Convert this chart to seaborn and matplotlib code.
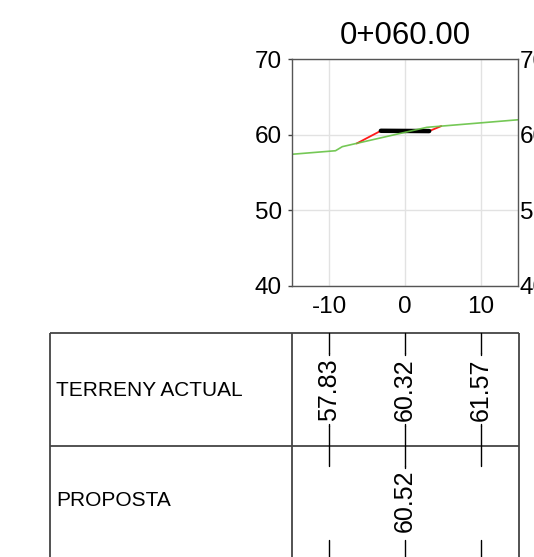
import numpy as np
import pandas as pd
import seaborn as sns
import matplotlib.pyplot as plt
from matplotlib.transforms import blended_transform_factory

# cross section data (offset, elevation)
terrain_x = [-15, -9.2, -8.3, 2.9, 15]
terrain_y = [57.43, 57.9, 58.44, 61.0, 62.0]
proposal_x = [-6.4, -3.2, 3.2, 4.8]
proposal_y = [58.86, 60.54, 60.50, 61.16]
platform_x = [-3.2, 3.2]
platform_y = [60.54, 60.50]

station = '0+060.00'
table_stations = [-10, 0, 10]
terrain_labels = ['57.83', '60.32', '61.57']
proposal_stations = [0]
proposal_labels = ['60.52']
row_names = ['TERRENY ACTUAL', 'PROPOSTA']

sns.set_style('white')
plt.rcParams['font.family'] = ['Liberation Sans', 'DejaVu Sans']
plt.rcParams['axes.unicode_minus'] = False
plt.rcParams['text.color'] = 'black'
plt.rcParams['xtick.color'] = 'black'
plt.rcParams['ytick.color'] = 'black'

W, H = 534, 557
fig = plt.figure(figsize=(W / 100, H / 100), dpi=100)

# pixel helpers for layout
def fx(px):
    return px / W

def fy(py):
    return 1 - py / H

ax_l, ax_r, ax_t, ax_b = 291.7, 518.3, 59.3, 286
ax = fig.add_axes([fx(ax_l), fy(ax_b), fx(ax_r - ax_l), (ax_b - ax_t) / H])

terrain = pd.DataFrame({'x': terrain_x, 'y': terrain_y})
proposal = pd.DataFrame({'x': proposal_x, 'y': proposal_y})
platform = pd.DataFrame({'x': platform_x, 'y': platform_y})

sns.lineplot(data=proposal, x='x', y='y', ax=ax, color='#ff1a1a', lw=1.3,
             sort=False, estimator=None)
sns.lineplot(data=platform, x='x', y='y', ax=ax, color='black', lw=3.2,
             sort=False, estimator=None)
sns.lineplot(data=terrain, x='x', y='y', ax=ax, color='#66c244', lw=1.2,
             sort=False, estimator=None, alpha=0.9)

ax.set_xlim(-15, 15)
ax.set_ylim(40, 70)
ax.set_xticks([-10, 0, 10])
ax.set_yticks([40, 50, 60, 70])
ax.grid(True, color='#e2e2e2', lw=1)
ax.set_xlabel('')
ax.set_ylabel('')
ax.set_title(station, fontsize=22.5, pad=11, color='black')
ax.tick_params(axis='both', labelsize=17.5, length=3, width=1, color='#444444',
               labelcolor='black', pad=4)
for sp in ax.spines.values():
    sp.set_color('#555555')
    sp.set_linewidth(1)

ax2 = ax.twinx()
ax2.set_ylim(40, 70)
ax2.set_yticks([40, 50, 60, 70])
ax2.grid(False)
ax2.tick_params(axis='y', labelsize=17.5, length=0, pad=1, labelcolor='black')
for sp in ax2.spines.values():
    sp.set_visible(False)

# table below the section
tab = fig.add_axes([0, 0, 1, 1], zorder=-1)
tab.set_axis_off()
tab.patch.set_visible(False)
tab.set_xlim(0, W)
tab.set_ylim(H, 0)

t_left, t_div, t_right = 50, ax_l, 519
r_top, r_mid, r_bot = 332.7, 446, 560
line_kw = dict(color='#444444', lw=1.3, solid_capstyle='butt')
tab.plot([t_left, t_right], [r_top, r_top], **line_kw)
tab.plot([t_left, t_right], [r_mid, r_mid], **line_kw)
for xx in [t_left, t_div, t_right]:
    tab.plot([xx, xx], [r_top, r_bot], **line_kw)

tab.text(56, (r_top + r_mid) / 2 + 1, row_names[0], fontsize=15, va='center', ha='left')
tab.text(56, (r_mid + r_bot) / 2 - 3, row_names[1], fontsize=15, va='center', ha='left')

trans = blended_transform_factory(ax.transData, fig.transFigure)
tick_len = 20
for s in table_stations:
    for y0, y1 in [(r_top, r_top + tick_len), (r_mid - tick_len, r_mid + tick_len),
                   (r_bot - tick_len, r_bot + tick_len)]:
        ax.plot([s, s], [fy(y0), fy(y1)], color='black', lw=1, transform=trans,
                clip_on=False)
    # stems reaching the terrain labels
    ax.plot([s, s], [fy(r_top + tick_len), fy(355)], color='black', lw=1,
            transform=trans, clip_on=False)
    ax.plot([s, s], [fy(424), fy(r_mid - tick_len)], color='black', lw=1,
            transform=trans, clip_on=False)

for s, lab in zip(table_stations, terrain_labels):
    ax.text(s, fy((r_top + r_mid) / 2), lab, rotation=90, fontsize=18,
            ha='center', va='center', transform=trans, clip_on=False)

for s, lab in zip(proposal_stations, proposal_labels):
    ax.plot([s, s], [fy(r_mid + tick_len), fy(468)], color='black', lw=1,
            transform=trans, clip_on=False)
    ax.text(s, fy(501), lab, rotation=90, fontsize=18,
            ha='center', va='center', transform=trans, clip_on=False)

fig.savefig('out.png', dpi=100)
